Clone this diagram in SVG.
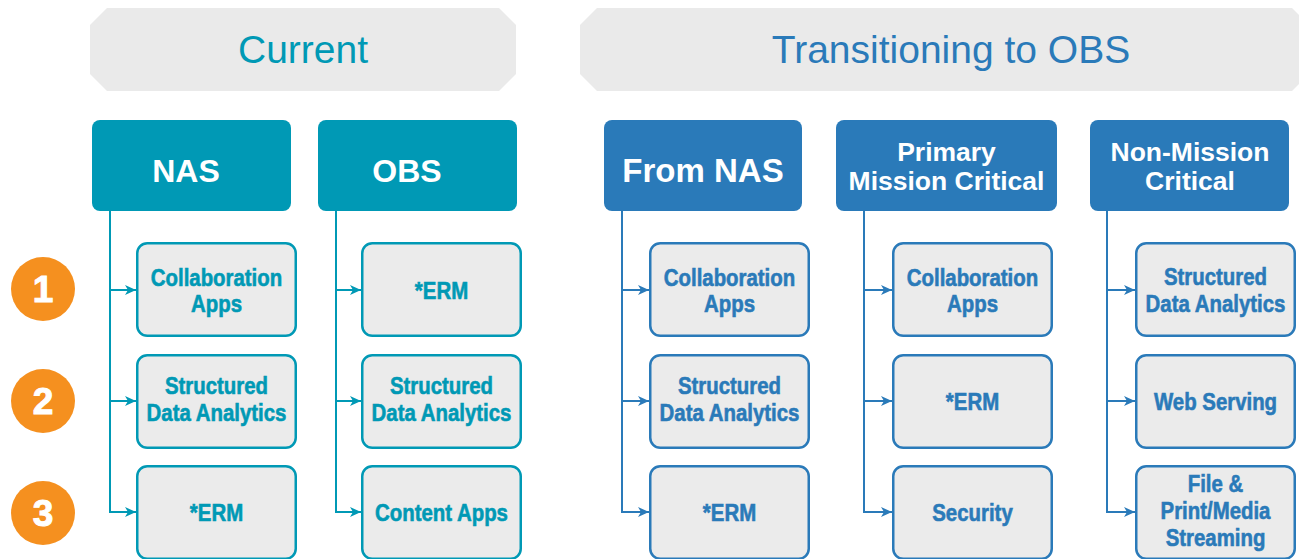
<svg xmlns="http://www.w3.org/2000/svg" width="1299" height="559" viewBox="0 0 1299 559">
<style>
.banner{fill:#EAEAEA}
.btitle{font-family:"Liberation Sans",Arial,sans-serif;font-size:39px;text-anchor:middle}
.hdr{font-family:"Liberation Sans",Arial,sans-serif;font-weight:bold;fill:#FFFFFF;text-anchor:middle}
.teal{fill:#0099B5}
.blue{fill:#2A7AB9}
.tealS{stroke:#0099B5}
.blueS{stroke:#2A7AB9}
.child{fill:#EBEBEB;stroke-width:2.5}
.ct{font-family:"Liberation Sans",Arial,sans-serif;font-weight:bold;font-size:24px;text-anchor:middle;stroke-width:0.6}
.ct.teal{stroke:#0099B5}
.ct.blue{stroke:#2A7AB9}
.line{fill:none;stroke-width:2}
.num{fill:#F5901F}
.numt{font-family:"Liberation Sans",Arial,sans-serif;font-weight:bold;font-size:37px;fill:#FFFFFF;text-anchor:middle;stroke:#FFFFFF;stroke-width:1}
</style>
<defs>
<marker id="at" markerWidth="12" markerHeight="10" refX="11" refY="5" orient="auto" markerUnits="userSpaceOnUse">
<path d="M0,0 L11,5 L0,10 L3,5 Z" fill="#0099B5"/>
</marker>
<marker id="ab" markerWidth="12" markerHeight="10" refX="11" refY="5" orient="auto" markerUnits="userSpaceOnUse">
<path d="M0,0 L11,5 L0,10 L3,5 Z" fill="#2A7AB9"/>
</marker>
</defs>

<g id="banner-current">
<polygon class="banner" points="90,25 107,8 499,8 516,25 516,74 499,91 107,91 90,74"/>
<text class="btitle teal" x="303" y="63">Current</text>
</g>
<g id="banner-transitioning">
<polygon class="banner" points="580,25 597,8 1292,8 1309,25 1309,74 1292,91 597,91 580,74"/>
<text class="btitle blue" x="951" y="63">Transitioning to OBS</text>
</g>

<g id="row-numbers">
<g id="num-1"><circle class="num" cx="43" cy="289" r="32"/><text class="numt" x="43" y="302">1</text></g>
<g id="num-2"><circle class="num" cx="43" cy="401" r="32"/><text class="numt" x="43" y="414">2</text></g>
<g id="num-3"><circle class="num" cx="43" cy="513" r="32"/><text class="numt" x="43" y="526">3</text></g>
</g>

<g id="connectors">
<path class="line tealS" d="M110,211 V512"/>
<path class="line tealS" d="M109,290 H136" marker-end="url(#at)"/>
<path class="line tealS" d="M109,401 H136" marker-end="url(#at)"/>
<path class="line tealS" d="M109,512 H136" marker-end="url(#at)"/>
<path class="line tealS" d="M336,211 V512"/>
<path class="line tealS" d="M335,290 H361" marker-end="url(#at)"/>
<path class="line tealS" d="M335,401 H361" marker-end="url(#at)"/>
<path class="line tealS" d="M335,512 H361" marker-end="url(#at)"/>
<path class="line blueS" d="M622,211 V512"/>
<path class="line blueS" d="M621,290 H649" marker-end="url(#ab)"/>
<path class="line blueS" d="M621,401 H649" marker-end="url(#ab)"/>
<path class="line blueS" d="M621,512 H649" marker-end="url(#ab)"/>
<path class="line blueS" d="M864,211 V512"/>
<path class="line blueS" d="M863,290 H892" marker-end="url(#ab)"/>
<path class="line blueS" d="M863,401 H892" marker-end="url(#ab)"/>
<path class="line blueS" d="M863,512 H892" marker-end="url(#ab)"/>
<path class="line blueS" d="M1107,211 V512"/>
<path class="line blueS" d="M1106,290 H1135" marker-end="url(#ab)"/>
<path class="line blueS" d="M1106,401 H1135" marker-end="url(#ab)"/>
<path class="line blueS" d="M1106,512 H1135" marker-end="url(#ab)"/>
</g>

<g id="hdr-nas"><rect class="teal" x="92" y="120" width="199" height="91" rx="8"/><text class="hdr" x="186" y="182" font-size="32">NAS</text></g>
<g id="hdr-obs"><rect class="teal" x="318" y="120" width="199" height="91" rx="8"/><text class="hdr" x="407" y="182" font-size="32">OBS</text></g>
<g id="hdr-fromnas"><rect class="blue" x="604" y="120" width="198" height="91" rx="8"/><text class="hdr" x="703" y="182" font-size="33">From NAS</text></g>
<g id="hdr-primary"><rect class="blue" x="836" y="120" width="221" height="91" rx="8"/><text class="hdr" font-size="26.5"><tspan x="946.5" y="161">Primary</tspan><tspan x="946.5" y="190">Mission Critical</tspan></text></g>
<g id="hdr-nonmission"><rect class="blue" x="1090" y="120" width="199" height="91" rx="8"/><text class="hdr" font-size="26.5"><tspan x="1190" y="161">Non-Mission</tspan><tspan x="1190" y="190">Critical</tspan></text></g>

<g id="nas-collab"><rect class="child tealS" x="137.25" y="243.25" width="158.5" height="92.5" rx="10"/><text class="ct teal" transform="translate(216.5,0) scale(0.85,1)"><tspan x="0" y="286">Collaboration</tspan><tspan x="0" y="312">Apps</tspan></text></g>
<g id="nas-sda"><rect class="child tealS" x="137.25" y="355.25" width="158.5" height="92.5" rx="10"/><text class="ct teal" transform="translate(216.5,0) scale(0.85,1)"><tspan x="0" y="394">Structured</tspan><tspan x="0" y="421">Data Analytics</tspan></text></g>
<g id="nas-erm"><rect class="child tealS" x="137.25" y="466.25" width="158.5" height="92.5" rx="10"/><text class="ct teal" transform="translate(216.5,0) scale(0.85,1)"><tspan x="0" y="521">*ERM</tspan></text></g>

<g id="obs-erm"><rect class="child tealS" x="362.25" y="243.25" width="158.5" height="92.5" rx="10"/><text class="ct teal" transform="translate(441.5,0) scale(0.85,1)"><tspan x="0" y="299">*ERM</tspan></text></g>
<g id="obs-sda"><rect class="child tealS" x="362.25" y="355.25" width="158.5" height="92.5" rx="10"/><text class="ct teal" transform="translate(441.5,0) scale(0.85,1)"><tspan x="0" y="394">Structured</tspan><tspan x="0" y="421">Data Analytics</tspan></text></g>
<g id="obs-content"><rect class="child tealS" x="362.25" y="466.25" width="158.5" height="92.5" rx="10"/><text class="ct teal" transform="translate(441.5,0) scale(0.85,1)"><tspan x="0" y="521">Content Apps</tspan></text></g>

<g id="fn-collab"><rect class="child blueS" x="650.25" y="243.25" width="158.5" height="92.5" rx="10"/><text class="ct blue" transform="translate(729.5,0) scale(0.85,1)"><tspan x="0" y="286">Collaboration</tspan><tspan x="0" y="312">Apps</tspan></text></g>
<g id="fn-sda"><rect class="child blueS" x="650.25" y="355.25" width="158.5" height="92.5" rx="10"/><text class="ct blue" transform="translate(729.5,0) scale(0.85,1)"><tspan x="0" y="394">Structured</tspan><tspan x="0" y="421">Data Analytics</tspan></text></g>
<g id="fn-erm"><rect class="child blueS" x="650.25" y="466.25" width="158.5" height="92.5" rx="10"/><text class="ct blue" transform="translate(729.5,0) scale(0.85,1)"><tspan x="0" y="521">*ERM</tspan></text></g>

<g id="pm-collab"><rect class="child blueS" x="893.25" y="243.25" width="158.5" height="92.5" rx="10"/><text class="ct blue" transform="translate(972.5,0) scale(0.85,1)"><tspan x="0" y="286">Collaboration</tspan><tspan x="0" y="312">Apps</tspan></text></g>
<g id="pm-erm"><rect class="child blueS" x="893.25" y="355.25" width="158.5" height="92.5" rx="10"/><text class="ct blue" transform="translate(972.5,0) scale(0.85,1)"><tspan x="0" y="410">*ERM</tspan></text></g>
<g id="pm-security"><rect class="child blueS" x="893.25" y="466.25" width="158.5" height="92.5" rx="10"/><text class="ct blue" transform="translate(972.5,0) scale(0.85,1)"><tspan x="0" y="521">Security</tspan></text></g>

<g id="nm-sda"><rect class="child blueS" x="1136.25" y="243.25" width="158.5" height="92.5" rx="10"/><text class="ct blue" transform="translate(1215.5,0) scale(0.85,1)"><tspan x="0" y="285">Structured</tspan><tspan x="0" y="312">Data Analytics</tspan></text></g>
<g id="nm-web"><rect class="child blueS" x="1136.25" y="355.25" width="158.5" height="92.5" rx="10"/><text class="ct blue" transform="translate(1215.5,0) scale(0.85,1)"><tspan x="0" y="410">Web Serving</tspan></text></g>
<g id="nm-file"><rect class="child blueS" x="1136.25" y="466.25" width="158.5" height="92.5" rx="10"/><text class="ct blue" transform="translate(1215.5,0) scale(0.85,1)"><tspan x="0" y="492">File &amp;</tspan><tspan x="0" y="519">Print/Media</tspan><tspan x="0" y="546">Streaming</tspan></text></g>
</svg>
